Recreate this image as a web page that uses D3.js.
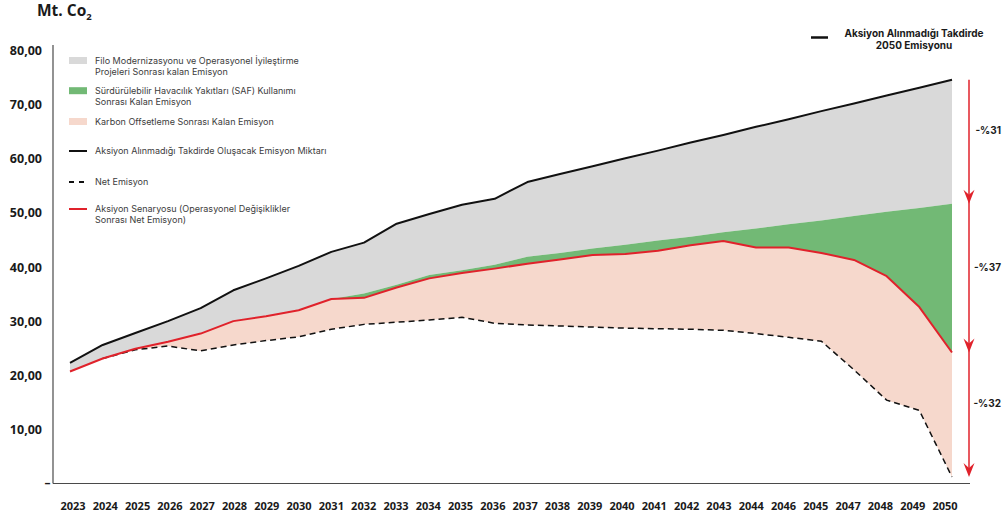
<!DOCTYPE html>
<html>
<head>
<meta charset="utf-8">
<script src="https://cdn.jsdelivr.net/npm/d3@7"></script>
<style>
  html, body { margin: 0; padding: 0; background: #fff; }
  svg { display: block; }
</style>
</head>
<body>
<svg id="chart" width="1002" height="517"></svg>
<script>
// Emission pathway, Mt CO2, 2023–2050
const years = ["2023","2024","2025","2026","2027","2028","2029","2030","2031","2032",
  "2033","2034","2035","2036","2037","2038","2039","2040","2041","2042","2043",
  "2044","2046","2045","2047","2048","2049","2050"];

// Emissions if no action is taken
const noAction = [22.3, 25.6, 27.8, 30.0, 32.4, 35.7, 37.9, 40.2, 42.8, 44.5,
  48.0, 49.8, 51.5, 52.6, 55.7, 57.2, 58.6, 60.1, 61.5, 63.0, 64.4,
  65.9, 67.3, 68.8, 70.2, 71.7, 73.1, 74.6];

// Remaining emissions after SAF use (starts in 2031)
const safRemaining = [null, null, null, null, null, null, null, null, 34.1, 35.1,
  36.7, 38.5, 39.4, 40.4, 41.9, 42.6, 43.4, 44.1, 44.9, 45.6, 46.4,
  47.1, 47.9, 48.6, 49.4, 50.2, 50.9, 51.7];

// Action scenario (net emissions after operational changes)
const actionScenario = [20.7, 23.1, 24.9, 26.2, 27.7, 30.0, 30.9, 32.0, 34.1, 34.3,
  36.2, 37.9, 38.9, 39.7, 40.6, 41.4, 42.2, 42.4, 43.0, 44.0, 44.8,
  43.6, 43.6, 42.6, 41.3, 38.3, 32.6, 24.2];

// Net emissions after carbon offsetting
const netEmission = [null, 23.1, 24.7, 25.4, 24.5, 25.6, 26.4, 27.1, 28.5, 29.4,
  29.8, 30.2, 30.7, 29.6, 29.3, 29.1, 28.9, 28.7, 28.6, 28.5, 28.3,
  27.7, 27.0, 26.3, 21.0, 15.4, 13.5, 1.2];

const yTicks = [10, 20, 30, 40, 50, 60, 70, 80];
const yTickLabels = ["10,00", "20,00", "30,00", "40,00", "50,00", "60,00", "70,00", "80,00"];
const zeroLabel = "–";
const reductionLabels = ["-%31", "-%37", "-%32"];

const legendItems = [
  { type: "rect", color: "#d9d9d9", lines: ["Filo Modernizasyonu ve Operasyonel İyileştirme", "Projeleri Sonrası kalan Emisyon"] },
  { type: "rect", color: "#72b975", lines: ["Sürdürülebilir Havacılık Yakıtları (SAF) Kullanımı", "Sonrası Kalan Emisyon"] },
  { type: "rect", color: "#f6d8cc", lines: ["Karbon Offsetleme Sonrası Kalan Emisyon"] },
  { type: "line", color: "#111", lines: ["Aksiyon Alınmadığı Takdirde Oluşacak Emisyon Miktarı"] },
  { type: "dash", color: "#111", lines: ["Net Emisyon"] },
  { type: "line", color: "#e0222b", lines: ["Aksiyon Senaryosu (Operasyonel Değişiklikler", "Sonrası Net Emisyon)"] }
];
const legendRows = [60.5, 90.7, 121.5, 151, 182, 209];

const C = {
  gray: "#d9d9d9", green: "#72b975", pink: "#f6d8cc",
  red: "#e0222b", black: "#111", axis: "#4a4a4a", text: "#1a1a1a"
};

const svg = d3.select("#chart");

const x = d3.scalePoint().domain(years).range([70, 952]);
const xLabels = d3.scalePoint().domain(years).range([72.5, 944.5]);
const y = d3.scaleLinear().domain([0, 80]).range([483.5, 50.5]);

const idx = d3.range(years.length);
const X = i => x(years[i]);

// Areas
const grayArea = d3.area()
  .x(X)
  .y0(i => y(safRemaining[i] != null ? safRemaining[i] : actionScenario[i]))
  .y1(i => y(noAction[i]));
const greenArea = d3.area()
  .defined(i => safRemaining[i] != null)
  .x(X).y0(i => y(actionScenario[i])).y1(i => y(safRemaining[i]));
const pinkArea = d3.area()
  .defined(i => netEmission[i] != null)
  .x(X).y0(i => y(netEmission[i])).y1(i => y(actionScenario[i]));

svg.append("path").attr("d", grayArea(idx)).attr("fill", C.gray);
svg.append("path").attr("d", greenArea(idx)).attr("fill", C.green);
svg.append("path").attr("d", pinkArea(idx)).attr("fill", C.pink);

// Lines
const line = arr => d3.line().defined(i => arr[i] != null).x(X).y(i => y(arr[i]));
svg.append("path").attr("d", line(netEmission)(idx))
  .attr("fill", "none").attr("stroke", C.black).attr("stroke-width", 1.5)
  .attr("stroke-dasharray", "6,4");
svg.append("path").attr("d", line(noAction)(idx))
  .attr("fill", "none").attr("stroke", C.black).attr("stroke-width", 2)
  .attr("stroke-linejoin", "round");
svg.append("path").attr("d", line(actionScenario)(idx))
  .attr("fill", "none").attr("stroke", C.red).attr("stroke-width", 2)
  .attr("stroke-linejoin", "round");

// Axes
svg.append("line").attr("x1", 53).attr("x2", 53).attr("y1", 45).attr("y2", y(0))
  .attr("stroke", C.axis).attr("stroke-width", 1.2);
svg.append("line").attr("x1", 53).attr("x2", 970).attr("y1", y(0)).attr("y2", y(0))
  .attr("stroke", C.axis).attr("stroke-width", 1.2);

const yAxis = d3.axisLeft(y).tickValues(yTicks)
  .tickFormat((d, i) => yTickLabels[i]).tickSize(0).tickPadding(0);
const yg = svg.append("g").attr("transform", "translate(42,0)").call(yAxis);
yg.select(".domain").remove();
yg.selectAll("text")
  .attr("font-family", "'Open Sans', sans-serif").attr("font-weight", 700)
  .attr("font-size", 12.5).attr("fill", C.text);
svg.append("text").attr("x", 50.5).attr("y", y(0)).attr("dy", "0.32em")
  .attr("text-anchor", "end").attr("font-family", "'Open Sans', sans-serif")
  .attr("font-weight", 700).attr("font-size", 12).attr("fill", C.text).text(zeroLabel);

const xAxis = d3.axisBottom(xLabels).tickSize(0).tickPadding(0);
const xg = svg.append("g").attr("transform", "translate(0,502)").call(xAxis);
xg.select(".domain").remove();
xg.selectAll("text")
  .attr("font-family", "'Open Sans', sans-serif").attr("font-weight", 700)
  .attr("font-size", 11).attr("fill", C.text);

// Title
const title = svg.append("text").attr("x", 37).attr("y", 16)
  .attr("font-family", "'Open Sans', sans-serif").attr("font-weight", 700)
  .attr("font-size", 15.5).attr("fill", C.text);
title.append("tspan").text("Mt. Co");
title.append("tspan").attr("font-size", 9.5).attr("dy", 4).text("2");

// Legend
legendItems.forEach((item, k) => {
  const cy = legendRows[k];
  if (item.type === "rect") {
    svg.append("rect").attr("x", 69).attr("y", cy - 3.5).attr("width", 18).attr("height", 7)
      .attr("fill", item.color);
  } else {
    svg.append("line").attr("x1", 69).attr("x2", 87).attr("y1", cy).attr("y2", cy)
      .attr("stroke", item.color).attr("stroke-width", 2)
      .attr("stroke-dasharray", item.type === "dash" ? "5,5" : null);
  }
  item.lines.forEach((t, j) => {
    svg.append("text").attr("x", 95).attr("y", cy + j * 11.2).attr("dy", "0.35em")
      .attr("font-family", "Inter, sans-serif").attr("font-size", 9)
      .attr("fill", "#3c3c3c").text(t);
  });
});

// Top-right legend for the 2050 no-action emissions
svg.append("line").attr("x1", 811).attr("x2", 828).attr("y1", 37.5).attr("y2", 37.5)
  .attr("stroke", C.black).attr("stroke-width", 2.5);
[["Aksiyon Alınmadığı Takdirde", 33], ["2050 Emisyonu", 45.5]].forEach(([t, ty]) => {
  svg.append("text").attr("x", 914).attr("y", ty).attr("dy", "0.35em")
    .attr("text-anchor", "middle").attr("font-family", "Inter, sans-serif")
    .attr("font-weight", 700).attr("font-size", 10).attr("fill", C.text).text(t);
});

// Reduction arrows on the right
const last = years.length - 1;
const stops = [noAction[last], safRemaining[last], actionScenario[last], netEmission[last]];
const ax = 969;
svg.append("line").attr("x1", ax).attr("x2", ax)
  .attr("y1", y(stops[0])).attr("y2", y(stops[3]) - 4)
  .attr("stroke", C.red).attr("stroke-width", 1.5);
for (let s = 1; s < stops.length; s++) {
  const ty = y(stops[s]);
  svg.append("path")
    .attr("d", `M${ax},${ty} L${ax - 5.5},${ty - 14} L${ax},${ty - 9} L${ax + 5.5},${ty - 14} Z`)
    .attr("fill", C.red);
  const mid = (y(stops[s - 1]) + ty) / 2 - 11;
  svg.append("text").attr("x", 1001).attr("y", mid).attr("dy", "0.35em")
    .attr("text-anchor", "end")
    .attr("font-family", "Inter, sans-serif").attr("font-weight", 700)
    .attr("font-size", 10).attr("fill", C.text).text(reductionLabels[s - 1]);
}
</script>
</body>
</html>
